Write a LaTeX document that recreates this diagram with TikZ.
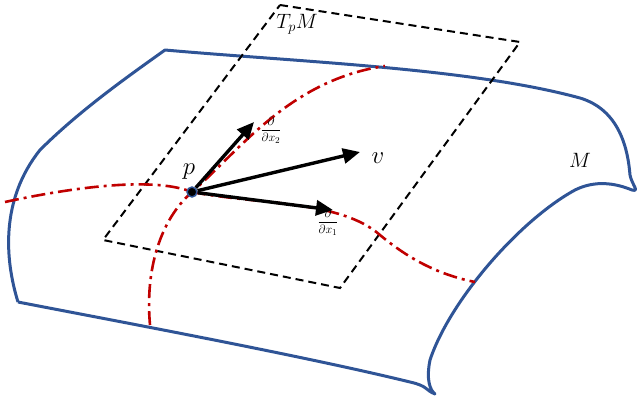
\documentclass[tikz,border=0pt]{standalone}
\usepackage{amsmath}
\usetikzlibrary{arrows.meta}
\begin{document}
\begin{tikzpicture}[x=1pt,y=-1pt,
 surf/.style={draw={rgb,255:red,47;green,84;blue,150},line width=3pt,line join=round},
 plane/.style={draw=black,line width=2pt,dash pattern=on 8pt off 5pt},
 curve/.style={draw={rgb,255:red,192;green,0;blue,0},line width=2.6pt,dash pattern=on 14pt off 5pt on 3pt off 5pt},
 vec/.style={line width=3.4pt,-{Triangle[length=17pt,width=15pt]}},
 lab/.style={font=\fontsize{26}{28}\selectfont},
 frac/.style={font=\fontsize{13}{15}\selectfont}]
\useasboundingbox (0,0) rectangle (640,400);
\draw[surf] (18,302) .. controls (5,260) and (0,200) .. (40,150)
  .. controls (80,110) and (130,75) .. (165,50)
  .. controls (300,62) and (470,68) .. (580,98)
  .. controls (620,110) and (628,150) .. (630,175)
  .. controls (632,185) and (640,192) .. (632,190)
  .. controls (615,183) and (595,180) .. (575,190)
  .. controls (520,220) and (450,300) .. (430,360)
  .. controls (426,380) and (430,390) .. (435,394)
  .. controls (425,390) and (428,386) .. (410,382)
  .. controls (300,355) and (100,318) .. (18,302);
\draw[plane] (280,5) coordinate (A) -- (520,42) coordinate (B) -- (340,288) coordinate (C) -- (103,240) coordinate (D) -- cycle;
\draw[curve] (150,325) .. controls (145,270) and (160,220) .. (192,192)
  .. controls (240,150) and (290,80) .. (385,66);
\draw[curve] (5,202) .. controls (60,190) and (150,175) .. (192,192)
  .. controls (260,205) and (340,200) .. (380,235)
  .. controls (410,260) and (440,275) .. (475,282);
\node[circle,fill=black,draw={rgb,255:red,47;green,84;blue,150},line width=1.5pt,inner sep=3.5pt] (p) at (192,192) {};
\coordinate (e2) at (254,122);
\coordinate (vv) at (360,152);
\coordinate (e1) at (333,210);
\draw[vec] (p) -- (e2);
\draw[vec] (p) -- (vv);
\draw[vec] (p) -- (e1);
\node[lab] (lp) at (189,172) {$p$};
\node[lab] (lv) at (378,158) {$v$};
\node[lab,font=\fontsize{22}{24}\selectfont] (lm) at (580,160) {$M$};
\node[font=\fontsize{20}{22}\selectfont] (lt) at (297,24) {$T_pM$};
\node[frac] (l2) at (271,130) {$\dfrac{\partial}{\partial x_2}$};
\node[frac] (l1) at (328,222) {$\dfrac{\partial}{\partial x_1}$};
\end{tikzpicture}
\end{document}
